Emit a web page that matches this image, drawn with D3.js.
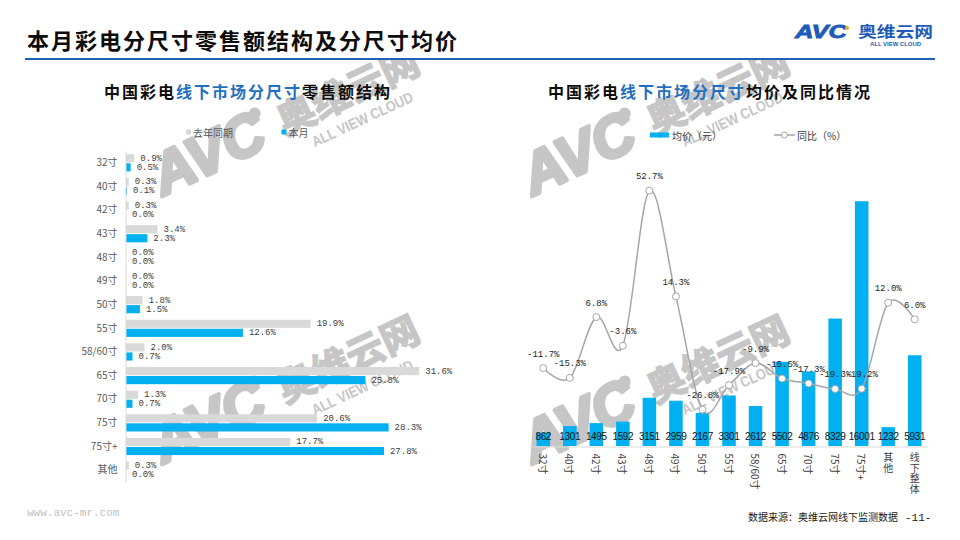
<!DOCTYPE html>
<html><head><meta charset="utf-8">
<script src="https://cdn.jsdelivr.net/npm/d3@7"></script>
<style>body{margin:0;background:#fff}svg{display:block}</style>
</head><body><svg id="c" width="960" height="540"></svg>
<script>
// ---------------- DATA ----------------
const sizeCats = ["32寸","40寸","42寸","43寸","48寸","49寸","50寸","55寸","58/60寸","65寸","70寸","75寸","75寸+","其他"];
const shareLastYear = [0.9,0.3,0.3,3.4,0.0,0.0,1.8,19.9,2.0,31.6,1.3,20.6,17.7,0.3];
const shareThisMonth = [0.5,0.1,0.0,2.3,0.0,0.0,1.5,12.6,0.7,25.8,0.7,28.3,27.8,0.0];
const priceCats = ["32寸","40寸","42寸","43寸","48寸","49寸","50寸","55寸","58/60寸","65寸","70寸","75寸","75寸+","其他","线下整体"];
const avgPrice = [862,1301,1495,1592,3151,2959,2167,3301,2612,5502,4876,8329,16001,1232,5931];
const yoyPct = [-11.7,-15.3,6.8,-3.6,52.7,14.3,-26.8,-17.9,-9.9,-15.5,-17.3,-19.3,-19.2,12.0,6.0];
const leftSeries = ["去年同期","本月"];
const rightSeries = ["均价（元）","同比（%）"];

// ---------------- STYLE ----------------
const CJK = "'Noto Sans CJK SC','Noto Sans',sans-serif";
const NUM = "'Liberation Mono','DejaVu Sans Mono',monospace";
const SANS = "'Liberation Sans',Arial,sans-serif";
const BLUE = "#00B0F0", GREY = "#D9D9D9", LINE = "#A6A6A6";

const svg = d3.select("#c");
svg.append("rect").attr("width",960).attr("height",540).attr("fill","#fff");

// ---------------- WATERMARKS ----------------
function watermark(x, y){
  const g = svg.append("g").attr("transform",`translate(${x},${y}) rotate(-25)`).attr("fill","#c6c6c6");
  g.append("text").attr("x",0).attr("y",0).attr("font-family",SANS)
    .attr("font-weight","bold").attr("font-style","italic").attr("font-size",58)
    .attr("stroke","#c6c6c6").attr("stroke-width",4).attr("stroke-linejoin","round")
    .attr("textLength",118).attr("lengthAdjust","spacingAndGlyphs").text("AVC");
  g.append("circle").attr("cx",118).attr("cy",-36).attr("r",6);
  g.append("text").attr("x",136).attr("y",-3).attr("font-family",CJK).attr("font-weight","bold")
    .attr("font-size",38).attr("stroke","#c6c6c6").attr("stroke-width",1.5)
    .attr("textLength",152).attr("lengthAdjust","spacingAndGlyphs").text("奥维云网");
  g.append("text").attr("x",158).attr("y",20).attr("font-family",SANS)
    .attr("font-weight","bold").attr("font-size",15).attr("textLength",110).attr("lengthAdjust","spacingAndGlyphs")
    .text("ALL VIEW CLOUD");
}
watermark(163,196); watermark(163,464); watermark(533,196); watermark(533,464);

// ---------------- HEADER ----------------
svg.append("rect").attr("x",0).attr("y",0).attr("width",960).attr("height",58).attr("fill","#fff");
svg.append("text").attr("x",27).attr("y",48.5).attr("font-family",CJK).attr("font-weight","bold")
  .attr("font-size",22).attr("letter-spacing",2).attr("fill","#0d0d0d").text("本月彩电分尺寸零售额结构及分尺寸均价");
svg.append("line").attr("x1",25).attr("x2",935).attr("y1",59).attr("y2",59).attr("stroke","#1F64B4").attr("stroke-width",2);
// logo
svg.append("text").attr("x",795).attr("y",38).attr("font-family",SANS)
  .attr("font-weight","bold").attr("font-style","italic").attr("font-size",18).attr("fill","#1E5BB8")
  .attr("stroke","#1E5BB8").attr("stroke-width",0.8)
  .attr("textLength",52).attr("lengthAdjust","spacingAndGlyphs").text("AVC");
svg.append("circle").attr("cx",847).attr("cy",28).attr("r",2).attr("fill","#F5A623");
svg.append("text").attr("x",858).attr("y",37).attr("font-family",CJK).attr("font-weight","bold")
  .attr("font-size",15).attr("fill","#1E5BB8").attr("textLength",75).attr("lengthAdjust","spacingAndGlyphs").text("奥维云网");
svg.append("text").attr("x",870).attr("y",45.5).attr("font-family",SANS)
  .attr("font-weight","bold").attr("font-size",5.5).attr("fill","#1E5BB8").attr("textLength",51)
  .attr("lengthAdjust","spacingAndGlyphs").text("ALL VIEW CLOUD");

// subtitles
function subtitle(x, parts){
  const t = svg.append("text").attr("x",x).attr("y",98).attr("font-family",CJK).attr("font-weight","bold")
    .attr("font-size",16).attr("letter-spacing",2);
  parts.forEach(p => t.append("tspan").attr("fill",p[1]).text(p[0]));
}
subtitle(104, [["中国彩电","#0d0d0d"],["线下市场分尺寸","#1F6FC5"],["零售额结构","#0d0d0d"]]);
subtitle(548, [["中国彩电","#0d0d0d"],["线下市场分尺寸","#1F6FC5"],["均价及同比情况","#0d0d0d"]]);

// ---------------- LEFT CHART ----------------
const yL = d3.scaleBand().domain(sizeCats).range([151,482]);
const ySub = d3.scaleBand().domain(leftSeries).range([3.2,20.4]).paddingInner(0.1);
const xL = d3.scaleLinear().domain([0,35]).range([126,126+9.28*35]);
const colL = d3.scaleOrdinal().domain(leftSeries).range([GREY, BLUE]);

// legend
const lg = svg.append("g");
[[186,leftSeries[0]],[281.5,leftSeries[1]]].forEach(([x,name])=>{
  lg.append("rect").attr("x",x).attr("y",129.5).attr("width",5).attr("height",5).attr("fill",colL(name));
  lg.append("text").attr("x",x+7).attr("y",132).attr("dominant-baseline","central").attr("font-family",CJK)
    .attr("font-size",10).attr("fill","#595959").text(name);
});

const rowsL = sizeCats.map((c,i)=>({c, vals:[{s:leftSeries[0],v:shareLastYear[i]},{s:leftSeries[1],v:shareThisMonth[i]}]}));
const gRow = svg.append("g").selectAll("g").data(rowsL).join("g")
  .attr("transform",d=>`translate(0,${yL(d.c)})`);
gRow.selectAll("rect").data(d=>d.vals).join("rect")
  .attr("x",xL(0)).attr("y",d=>ySub(d.s)).attr("height",ySub.bandwidth())
  .attr("width",d=>xL(d.v)-xL(0)).attr("fill",d=>colL(d.s));
gRow.selectAll("text").data(d=>d.vals).join("text")
  .attr("x",d=>xL(d.v)+6).attr("y",d=>ySub(d.s)+ySub.bandwidth()/2+0.5).attr("dominant-baseline","central")
  .attr("font-family",NUM).attr("font-size",9).attr("fill","#404040").text(d=>d.v.toFixed(1)+"%");

const axL = svg.append("g").attr("transform","translate(125.5,0)")
  .call(d3.axisLeft(yL).tickSize(0).tickPadding(8));
axL.select(".domain").attr("stroke","#D9D9D9");
axL.selectAll("text").attr("font-family",CJK).attr("font-size",10).attr("fill","#595959");

// ---------------- RIGHT CHART ----------------
const xR = d3.scaleBand().domain(priceCats).range([530,928]).paddingInner(0.49).paddingOuter(0.245);
const yBar = d3.scaleLinear().domain([0,20000]).range([446,140]);
const yLine = d3.scaleLinear().domain([-40,70]).range([446,143]);
const cx = c => xR(c)+xR.bandwidth()/2;

// legend
svg.append("rect").attr("x",650).attr("y",132.5).attr("width",19).attr("height",5).attr("fill",BLUE);
svg.append("text").attr("x",672).attr("y",135).attr("dominant-baseline","central").attr("font-family",CJK)
  .attr("font-size",10).attr("fill","#404040").text(rightSeries[0]);
svg.append("line").attr("x1",774).attr("x2",795).attr("y1",135).attr("y2",135).attr("stroke",LINE).attr("stroke-width",1.5);
svg.append("circle").attr("cx",784.5).attr("cy",135).attr("r",3).attr("fill","#fff").attr("stroke",LINE);
svg.append("text").attr("x",797).attr("y",135).attr("dominant-baseline","central").attr("font-family",CJK)
  .attr("font-size",10).attr("fill","#404040").text(rightSeries[1]);

const priceRows = priceCats.map((c,i)=>({c, p:avgPrice[i], y:yoyPct[i]}));
svg.append("g").selectAll("rect").data(priceRows).join("rect")
  .attr("x",d=>xR(d.c)).attr("width",xR.bandwidth())
  .attr("y",d=>yBar(d.p)).attr("height",d=>yBar(0)-yBar(d.p)).attr("fill",BLUE);

const axR = svg.append("g").attr("transform","translate(0,446.5)").call(d3.axisBottom(xR).tickSize(0).tickFormat(""));
axR.select(".domain").attr("stroke","#D9D9D9");
// category labels: digits rotated, pure CJK stacked upright (vertical writing mode)
axR.selectAll(".tick").each(function(c){
  const t = d3.select(this).append("text").attr("font-family",CJK).attr("font-size",10).attr("fill","#404040");
  if (/\d/.test(c)) {
    t.attr("transform","translate(0,7) rotate(90)").attr("text-anchor","start").attr("dominant-baseline","central").text(c);
  } else {
    t.attr("x",0).attr("y",6).attr("text-anchor","start").style("writing-mode","vertical-rl")
      .attr("letter-spacing",0.5).text(c);
  }
});

// value labels
svg.append("g").selectAll("text").data(priceRows).join("text")
  .attr("x",d=>cx(d.c)).attr("y",436).attr("text-anchor","middle").attr("dominant-baseline","central")
  .attr("font-family",SANS).attr("font-size",10).attr("letter-spacing",-0.35).attr("fill","#111").text(d=>d.p);

// line
const lineGen = d3.line().x(d=>cx(d.c)).y(d=>yLine(d.y)).curve(d3.curveCardinal.tension(0));
svg.append("path").datum(priceRows).attr("d",lineGen).attr("fill","none").attr("stroke",LINE).attr("stroke-width",1.5);
svg.append("g").selectAll("circle").data(priceRows).join("circle")
  .attr("cx",d=>cx(d.c)).attr("cy",d=>yLine(d.y)).attr("r",3.5).attr("fill","#fff").attr("stroke",LINE).attr("stroke-width",1);
svg.append("g").selectAll("text").data(priceRows).join("text")
  .attr("x",d=>cx(d.c)).attr("y",d=>yLine(d.y)-13.5).attr("text-anchor","middle").attr("dominant-baseline","central")
  .attr("font-family",NUM).attr("font-size",9).attr("fill","#262626").text(d=>d.y.toFixed(1)+"%");

// ---------------- FOOTER ----------------
svg.append("text").attr("x",27).attr("y",516).attr("font-family",NUM).attr("font-size",11).attr("fill","#BFBFBF").text("www.avc-mr.com");
svg.append("text").attr("x",898).attr("y",521).attr("text-anchor","end").attr("font-family",CJK).attr("font-size",10)
  .attr("fill","#1a1a1a").text("数据来源：奥维云网线下监测数据");
svg.append("text").attr("x",905).attr("y",521).attr("font-family",NUM).attr("font-size",11).attr("fill","#1a1a1a").text("-11-");
</script></body></html>
